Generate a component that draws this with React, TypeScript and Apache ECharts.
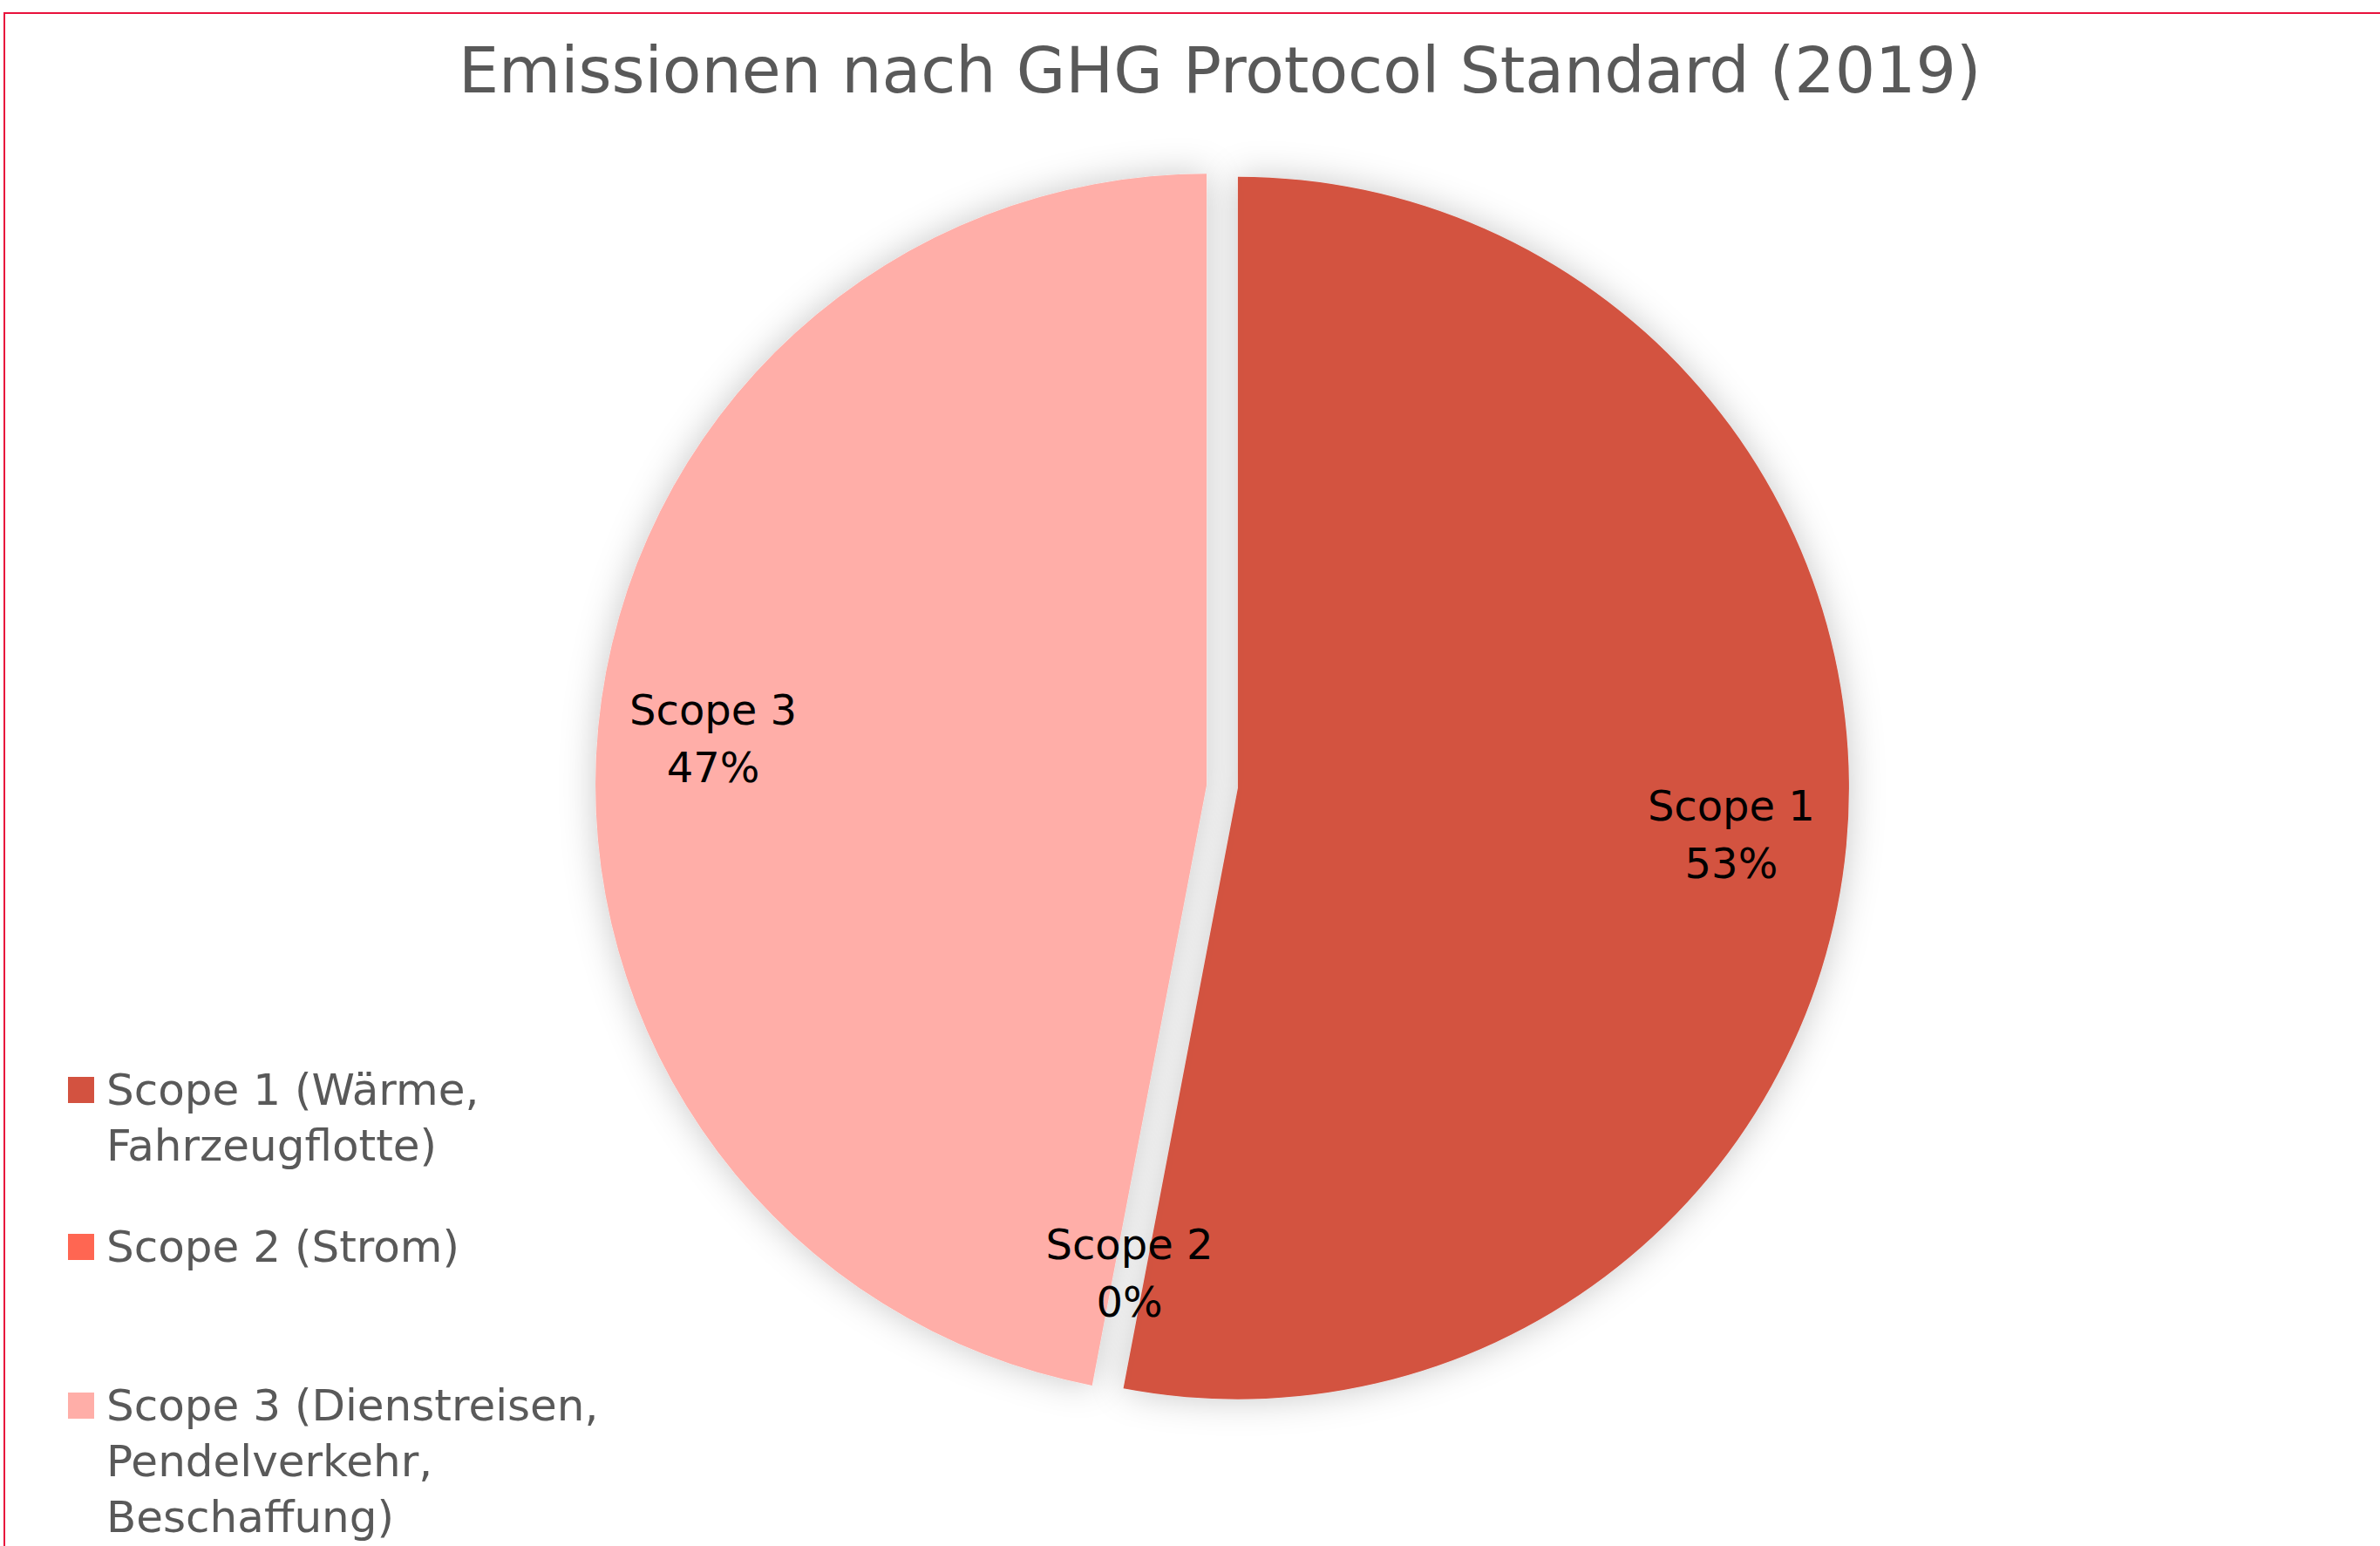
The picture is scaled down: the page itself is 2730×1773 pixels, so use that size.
import React, { useEffect, useRef } from "react";
import * as echarts from "echarts";

// ---- data ----
const categories = [
  "Scope 1 (Wärme, Fahrzeugflotte)",
  "Scope 2 (Strom)",
  "Scope 3 (Dienstreisen, Pendelverkehr, Beschaffung)",
];
const legendLines = [
  ["Scope 1 (Wärme,", "Fahrzeugflotte)"],
  ["Scope 2 (Strom)"],
  ["Scope 3 (Dienstreisen,", "Pendelverkehr,", "Beschaffung)"],
];
const shortLabels = ["Scope 1", "Scope 2", "Scope 3"];
const values = [53, 0, 47];
const exploded = [true, false, true];
const colors = ["#D35240", "#FF6652", "#FFAEA8"];
const title = "Emissionen nach GHG Protocol Standard (2019)";

const FONT = "DejaVu Sans";
const TEXT_GREY = "#595959";
const LEGEND_LH = 64;
const legendCenters = [1250, 1430, 1612];

export default function App() {
  const ref = useRef<HTMLDivElement>(null);
  useEffect(() => {
    if (!ref.current) return;
    const chart = echarts.init(ref.current, undefined, { renderer: "svg" });
    const center = [1402, 902];
    const R = 701;
    const data = categories.map((name, i) => ({
      name,
      value: values[i],
      selected: exploded[i],
      itemStyle: { color: colors[i] },
    }));
    const legends = categories.map((name, i) => {
      const n = legendLines[i].length;
      const boxH = (2 * n - 1) * LEGEND_LH;
      const lead = "\n".repeat(n - 1);
      return {
        show: true,
        orient: "vertical",
        left: 78,
        top: legendCenters[i] - boxH / 2,
        padding: 0,
        icon: "rect",
        itemWidth: 30,
        itemHeight: 30,
        selectedMode: false,
        data: [name],
        formatter: () => lead + legendLines[i].join("\n"),
        textStyle: {
          color: TEXT_GREY,
          fontFamily: FONT,
          fontSize: 50,
          lineHeight: LEGEND_LH,
          padding: [0, 0, 0, 9],
        },
      };
    });
    chart.setOption({
      animation: false,
      backgroundColor: "#ffffff",
      title: {
        text: title,
        left: 526,
        top: 36,
        padding: 0,
        textStyle: {
          color: TEXT_GREY,
          fontFamily: FONT,
          fontSize: 73,
          fontWeight: "normal",
          lineHeight: 88,
        },
      },
      legend: legends,
      graphic: [
        {
          type: "rect",
          shape: { x: 5, y: 15, width: 2800, height: 1800 },
          style: { fill: "none", stroke: "#E8123C", lineWidth: 2 },
          z: 100,
          silent: true,
        },
      ],
      series: [
        {
          type: "pie",
          center,
          radius: [0, R],
          startAngle: 90,
          clockwise: true,
          selectedMode: "multiple",
          selectedOffset: 18,
          avoidLabelOverlap: false,
          label: { show: false },
          labelLine: { show: false },
          emphasis: { disabled: true },
          itemStyle: {
            shadowBlur: 40,
            shadowColor: "rgba(0,0,0,0.22)",
          },
          data,
        },
        {
          type: "pie",
          center,
          radius: [430, R],
          startAngle: 90,
          clockwise: true,
          selectedMode: "multiple",
          selectedOffset: 18,
          avoidLabelOverlap: false,
          percentPrecision: 0,
          silent: true,
          emphasis: { disabled: true },
          itemStyle: { color: "transparent" },
          labelLine: { show: false },
          label: {
            show: true,
            position: "inside",
            formatter: (p: any) => `${shortLabels[p.dataIndex]}\n${p.percent}%`,
            color: "#000000",
            fontFamily: FONT,
            fontSize: 48,
            lineHeight: 66,
            align: "center",
          },
          data: categories.map((name, i) => ({
            name,
            value: values[i],
            selected: exploded[i],
          })),
        },
      ],
    });
    return () => chart.dispose();
  }, []);
  return (
    <div
      ref={ref}
      style={{ position: "fixed", left: 0, top: 0, width: 2730, height: 1773 }}
    />
  );
}
